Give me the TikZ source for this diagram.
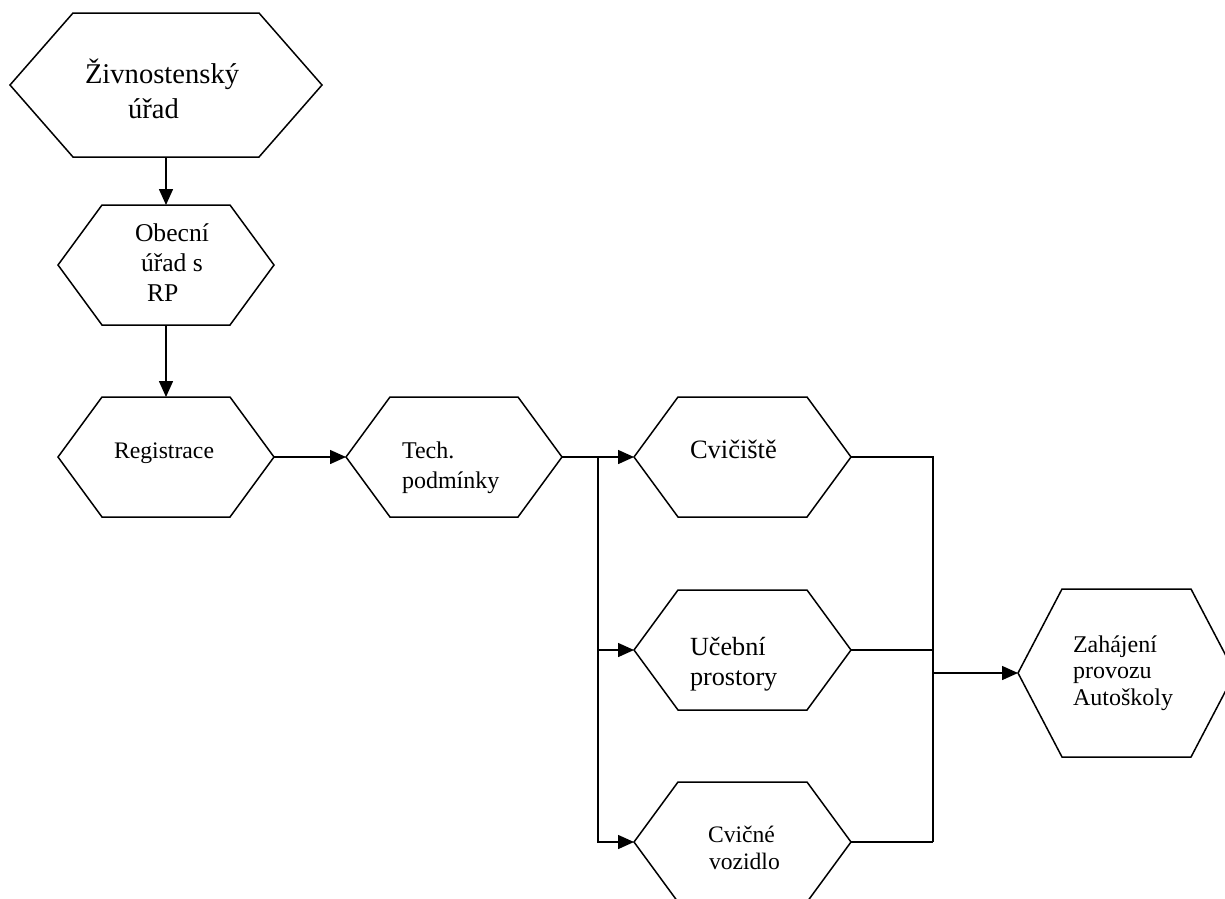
\documentclass[tikz,border=0pt]{standalone}
\usepackage{fontspec}
\setmainfont{Liberation Serif}
\usetikzlibrary{arrows.meta}
\newcommand\myfs[1]{\fontsize{#1}{#1}\selectfont}
\newcommand\hexout[2]{%
  \draw[hexline] (#1.west) -- ([xshift=#2]#1.north west) -- ([xshift=-#2]#1.north east)
    -- (#1.east) -- ([xshift=-#2]#1.south east) -- ([xshift=#2]#1.south west) -- cycle;}
\tikzset{
  hexline/.style={line width=1.5pt, line join=miter},
  hexbox/.style={draw=none, inner sep=0pt, outer sep=0pt, rectangle},
  lbl/.style={anchor=base west, inner sep=0pt, outer sep=0pt},
  conn/.style={line width=1.5pt},
  arr/.style={line width=1.5pt, -{Triangle[length=16pt, width=14pt]}},
}
\begin{document}
\begin{tikzpicture}[x=1pt, y=-1pt]
\useasboundingbox (0,0) rectangle (1225,898);
\clip (0,0) rectangle (1225,898);
\fill[white] (0,0) rectangle (1225,898);

% hexagon frames
\node[hexbox, minimum width=312pt, minimum height=144pt] (n1) at (166,85) {};
\node[hexbox, minimum width=216pt, minimum height=120pt] (n2) at (166,265) {};
\node[hexbox, minimum width=216pt, minimum height=120pt] (n3) at (166,457) {};
\node[hexbox, minimum width=216pt, minimum height=120pt] (n4) at (454,457) {};
\node[hexbox, minimum width=217pt, minimum height=120pt] (n5) at (742.5,457) {};
\node[hexbox, minimum width=217pt, minimum height=120pt] (n6) at (742.5,650) {};
\node[hexbox, minimum width=217pt, minimum height=120pt] (n7) at (742.5,842) {};
\node[hexbox, minimum width=217pt, minimum height=168pt] (n8) at (1126.5,673) {};

\hexout{n1}{63pt}
\hexout{n2}{44pt}
\hexout{n3}{44pt}
\hexout{n4}{44pt}
\hexout{n5}{44pt}
\hexout{n6}{44pt}
\hexout{n7}{44pt}
\hexout{n8}{44pt}

% texts
\node[lbl, font=\myfs{28.6}] (t1a) at (85,83) {Živnostenský};
\node[lbl, font=\myfs{28.6}] (t1b) at (128,118) {úřad};
\node[lbl, font=\myfs{25.6}] (t2a) at (135,241) {Obecní};
\node[lbl, font=\myfs{25.6}] (t2b) at (141,271) {úřad s};
\node[lbl, font=\myfs{25.6}] (t2c) at (147,301) {RP};
\node[lbl, font=\myfs{23.7}] (t3a) at (114,458) {Registrace};
\node[lbl, font=\myfs{24}] (t4a) at (402,458) {Tech.};
\node[lbl, font=\myfs{24}] (t4b) at (402,488) {podmínky};
\node[lbl, font=\myfs{26.5}] (t5a) at (690,458) {Cvičiště};
\node[lbl, font=\myfs{26.2}] (t6a) at (690,655) {Učební};
\node[lbl, font=\myfs{26.2}] (t6b) at (690,685) {prostory};
\node[lbl, font=\myfs{23.6}] (t7a) at (708,842) {Cvičné};
\node[lbl, font=\myfs{23.6}] (t7b) at (709,869) {vozidlo};
\node[lbl, font=\myfs{24}] (t8a) at (1073,652) {Zahájení};
\node[lbl, font=\myfs{24}] (t8b) at (1073,678) {provozu};
\node[lbl, font=\myfs{24}] (t8c) at (1073,705) {Autoškoly};

% connectors
\coordinate (j1) at (598,457);
\coordinate (k1) at (933,457);
\coordinate (k3) at (933,842);

\draw[arr] (n1.south) -- (n2.north);
\draw[arr] (n2.south) -- (n3.north);
\draw[arr] (n3.east) -- (n4.west);
\draw[arr] (n4.east) -- (n5.west);
\draw[arr] (j1) |- (n7.west);
\draw[arr] (j1 |- n6.west) -- (n6.west);

\draw[conn] (n5.east) -- (k1) -- (k3);
\draw[conn] (n6.east) -- (n6.east -| k1);
\draw[conn] (n7.east) -- (k3);
\draw[arr] (k1 |- n8.west) -- (n8.west);
\end{tikzpicture}
\end{document}
